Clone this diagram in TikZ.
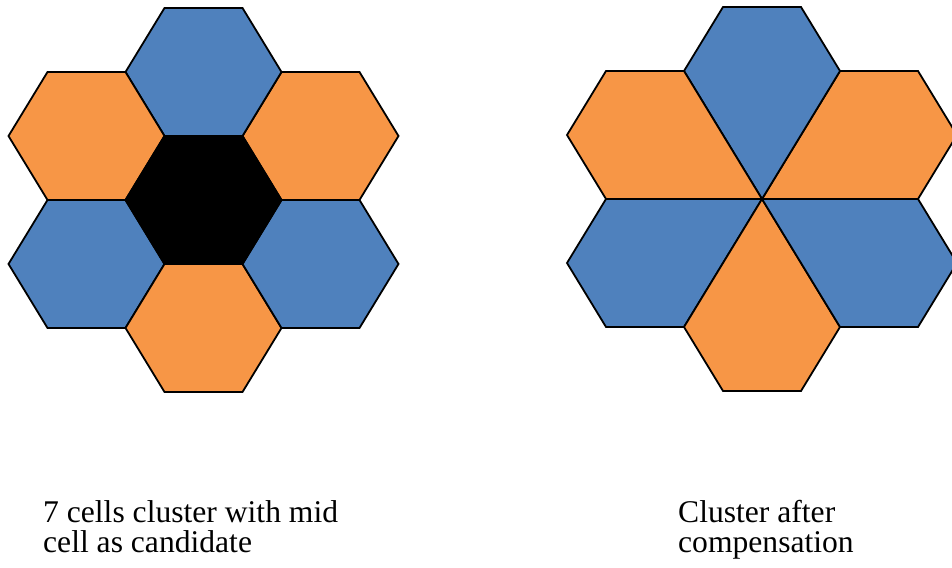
\documentclass[tikz,border=0pt]{standalone}
\usepackage{fontspec}
\setmainfont{Liberation Serif}
\usetikzlibrary{calc}
\definecolor{cellblue}{HTML}{4F81BD}
\definecolor{cellorange}{HTML}{F79646}
\tikzset{
  cell/.style={draw=black, line width=1.8pt},
  caption/.style={anchor=base west, inner sep=0pt, font=\fontsize{31.6}{31}\selectfont}
}
\begin{document}
\begin{tikzpicture}[x=1pt, y=1pt]
\useasboundingbox (0,0) rectangle (952,567);

% Left: seven-cell cluster, candidate cell in the middle
\begin{scope}[shift={(203.5,367)}, x=78pt, y=73.9pt]
  \foreach \k in {0,...,5} {
    \pgfmathsetmacro{\d}{30+60*\k}
    \pgfmathparse{mod(\k,2)==0 ? "cellorange" : "cellblue"}
    \edef\fillc{\pgfmathresult}
    \filldraw[cell, fill=\fillc] ($(\d:1.732)+(0:1)$)
      \foreach \j in {1,...,5} { -- ($(\d:1.732)+(60*\j:1)$) } -- cycle;
  }
  \filldraw[cell, fill=black] (0:1) \foreach \j in {1,...,5} { -- (60*\j:1) } -- cycle;
\end{scope}

% Right: the middle cell shared out among its six neighbours
\begin{scope}[shift={(762,368)}, x=78pt, y=73.9pt]
  \foreach \k in {0,...,5} {
    \pgfmathsetmacro{\d}{30+60*\k}
    \pgfmathparse{mod(\k,2)==0 ? "cellorange" : "cellblue"}
    \edef\fillc{\pgfmathresult}
    \filldraw[cell, fill=\fillc]
      ($(\d:1.732)+(\d-90:1)$) -- ($(\d:1.732)+(\d-30:1)$)
      -- ($(\d:1.732)+(\d+30:1)$) -- ($(\d:1.732)+(\d+90:1)$)
      -- (0,0) -- cycle;
  }
\end{scope}

\node[caption] (capL1) at (43,45) {7 cells cluster with mid};
\node[caption] (capL2) at (43,14) {cell as candidate};
\node[caption] (capR1) at (678,44) {Cluster after};
\node[caption] (capR2) at (678,14) {compensation};
\end{tikzpicture}
\end{document}
